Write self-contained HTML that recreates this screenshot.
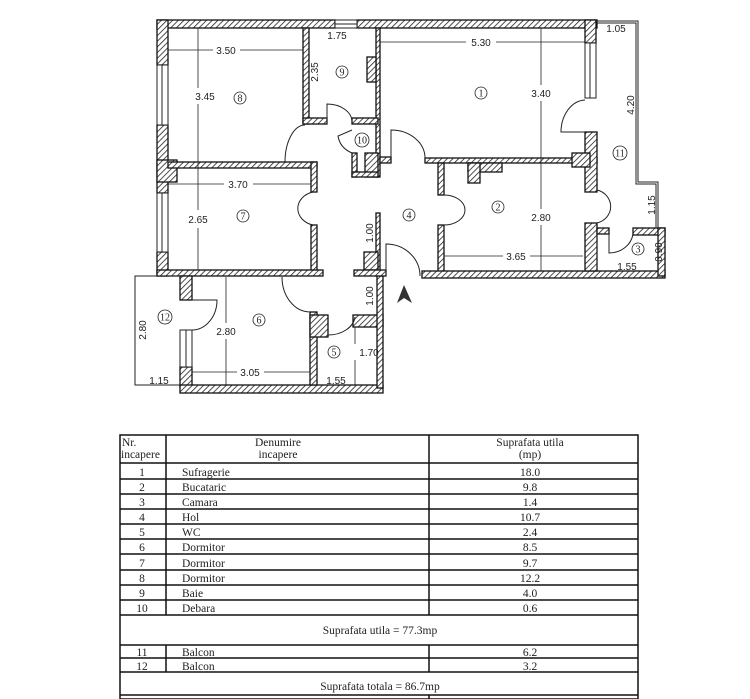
<!DOCTYPE html>
<html><head><meta charset="utf-8"><style>
html,body{margin:0;padding:0;background:#fff;}
svg{display:block;}
.d{font-family:"Liberation Sans",sans-serif;font-size:10px;fill:#222;}
.t{font-family:"Liberation Serif",serif;font-size:11.5px;fill:#222;}
.n{font-family:"Liberation Serif",serif;font-size:10px;fill:#222;}
</style></head><body>
<svg width="750" height="699" viewBox="0 0 750 699" xmlns="http://www.w3.org/2000/svg">
<defs>
<pattern id="h" width="4" height="4" patternUnits="userSpaceOnUse" patternTransform="rotate(45)">
<rect width="4" height="4" fill="#fff"/><line x1="0" y1="0" x2="0" y2="4" stroke="#222" stroke-width="1.6"/>
</pattern>
</defs>
<g fill="url(#h)" stroke="#111" stroke-width="1.3">
<rect x="157" y="20" width="178" height="8"/>
<rect x="357" y="20" width="240" height="8"/>
<rect x="157" y="20" width="11" height="45"/>
<rect x="157" y="125" width="11" height="68"/>
<rect x="157" y="252" width="11" height="24"/>
<rect x="157" y="160" width="20" height="22"/>
<rect x="303" y="28" width="6" height="96"/>
<rect x="376" y="28" width="4" height="149"/>
<rect x="367" y="57" width="9" height="25"/>
<rect x="303" y="118" width="24" height="6"/>
<rect x="352" y="118" width="26" height="6"/>
<rect x="352" y="153" width="5" height="24"/>
<rect x="365" y="153" width="13" height="24"/>
<rect x="352" y="172" width="26" height="5"/>
<rect x="380" y="157" width="11" height="6"/>
<rect x="168" y="162" width="149" height="6"/>
<rect x="311" y="162" width="6" height="30"/>
<rect x="311" y="225" width="6" height="47"/>
<rect x="157" y="270" width="166" height="6"/>
<rect x="180" y="276" width="12" height="24"/>
<rect x="180" y="367" width="12" height="20"/>
<rect x="180" y="385" width="203" height="8"/>
<rect x="310" y="312" width="7" height="73"/>
<rect x="310" y="315" width="18" height="22"/>
<rect x="353" y="315" width="30" height="12"/>
<rect x="377" y="276" width="6" height="112"/>
<rect x="376" y="213" width="4" height="58"/>
<rect x="364" y="252" width="14" height="18"/>
<rect x="354" y="270" width="32" height="6"/>
<rect x="425" y="158" width="172" height="5"/>
<rect x="438" y="163" width="6" height="32"/>
<rect x="438" y="225" width="6" height="47"/>
<rect x="422" y="271" width="243" height="7"/>
<rect x="468" y="163" width="34" height="9"/>
<rect x="468" y="163" width="12" height="20"/>
<rect x="585" y="20" width="11" height="23"/>
<rect x="585" y="132" width="12" height="60"/>
<rect x="572" y="153" width="18" height="14"/>
<rect x="585" y="223" width="12" height="48"/>
<rect x="633" y="228" width="32" height="7"/>
<rect x="658" y="228" width="7" height="48"/>
<rect x="597" y="228" width="12" height="6"/>
</g>
<g fill="#fff" stroke="#222" stroke-width="1">
<rect x="335" y="20" width="22" height="8"/><line x1="335" y1="24" x2="357" y2="24"/>
<rect x="157" y="65" width="11" height="60"/><line x1="162" y1="65" x2="162" y2="125"/>
<rect x="157" y="193" width="11" height="59"/><line x1="162" y1="193" x2="162" y2="252"/>
<rect x="585" y="43" width="11" height="55"/><line x1="590" y1="43" x2="590" y2="98"/>
<rect x="180" y="330" width="12" height="37"/><line x1="186" y1="330" x2="186" y2="367"/>
</g>
<g fill="none" stroke="#222" stroke-width="1">
<polyline points="596,21 638,21 638,182 658,182 658,228"/>
<polyline points="596,23 636,23 636,184 656,184 656,228"/>
<polyline points="180,276 135,276 135,385 180,385"/>
<polyline points="597,234 597,271"/>
<path d="M285,162 A20,37 0 0 1 305,125"/>
<path d="M327,124 L327,104 A25,18 0 0 1 352,122"/>
<path d="M352,130 L338,136 Q340,148 352,153"/>
<path d="M391,157 L391,130 A34,28 0 0 1 425,158"/>
<path d="M585,100 A25,32 0 0 0 561,132 L585,132"/>
<path d="M313,192 A20,17 0 0 0 313,225"/>
<path d="M444,195 A21,15 0 0 1 444,225"/>
<path d="M597,190 A18,17 0 0 1 597,223"/>
<path d="M609,234 L609,253 A24,22 0 0 0 633,234"/>
<path d="M386,276 L386,244 A34,32 0 0 1 420,276"/>
<path d="M282,277 A28,35 0 0 0 310,312"/>
<path d="M328,335 A27,20 0 0 0 355,317"/>
<path d="M192,300 L217,300 A25,30 0 0 1 192,330"/>
</g>
<g stroke="#222" stroke-width="0.8" fill="none">
<line x1="168" y1="50" x2="213" y2="50"/><line x1="240" y1="50" x2="303" y2="50"/>
<line x1="198" y1="28" x2="198" y2="88"/><line x1="198" y1="104" x2="198" y2="210"/><line x1="198" y1="228" x2="198" y2="270"/>
<line x1="380" y1="42" x2="466" y2="42"/><line x1="496" y1="42" x2="585" y2="42"/>
<line x1="541" y1="28" x2="541" y2="85"/><line x1="541" y1="101" x2="541" y2="209"/><line x1="541" y1="225" x2="541" y2="271"/>
<line x1="168" y1="184" x2="224" y2="184"/><line x1="253" y1="184" x2="311" y2="184"/>
<line x1="444" y1="256" x2="503" y2="256"/><line x1="530" y1="256" x2="583" y2="256"/>
<line x1="226" y1="277" x2="226" y2="323"/><line x1="226" y1="339" x2="226" y2="385"/>
<line x1="192" y1="372" x2="237" y2="372"/><line x1="264" y1="372" x2="310" y2="372"/>
<line x1="355" y1="327" x2="355" y2="344"/><line x1="355" y1="360" x2="355" y2="385"/>
</g>
<polygon points="404,285 397,303 404,298 412,303" fill="#333"/>
<g class="d" text-anchor="middle">
<text x="226" y="54">3.50</text>
<text x="205" y="100">3.45</text>
<text x="337" y="39">1.75</text>
<text x="481" y="46">5.30</text>
<text x="541" y="97">3.40</text>
<text x="541" y="221">2.80</text>
<text x="616" y="32">1.05</text>
<text x="238" y="188">3.70</text>
<text x="198" y="223">2.65</text>
<text x="516" y="260">3.65</text>
<text x="627" y="270">1.55</text>
<text x="226" y="335">2.80</text>
<text x="250" y="376">3.05</text>
<text x="159" y="384">1.15</text>
<text x="336" y="384">1.55</text>
<text x="369" y="356">1.70</text>
<text transform="translate(318,72) rotate(-90)">2.35</text>
<text transform="translate(634,105) rotate(-90)">4.20</text>
<text transform="translate(655,205) rotate(-90)">1.15</text>
<text transform="translate(662,252) rotate(-90)">0.90</text>
<text transform="translate(373,233) rotate(-90)">1.00</text>
<text transform="translate(373,296) rotate(-90)">1.00</text>
<text transform="translate(146,330) rotate(-90)">2.80</text>
</g>
<g fill="none" stroke="#222" stroke-width="0.8">
<circle cx="240" cy="98" r="6"/><circle cx="342" cy="72" r="6"/><circle cx="481" cy="93" r="6"/>
<circle cx="362" cy="140" r="7"/><circle cx="620" cy="153" r="7"/><circle cx="498" cy="207" r="6"/>
<circle cx="409" cy="215" r="6"/><circle cx="243" cy="216" r="6"/><circle cx="638" cy="249" r="6"/>
<circle cx="259" cy="320" r="6"/><circle cx="165" cy="317" r="7"/><circle cx="334" cy="352" r="6"/>
</g>
<g class="n" text-anchor="middle">
<text x="240" y="101.5">8</text><text x="342" y="75.5">9</text><text x="481" y="96.5">1</text>
<text x="362" y="143.5">10</text><text x="620" y="156.5">11</text><text x="498" y="210.5">2</text>
<text x="409" y="218.5">4</text><text x="243" y="219.5">7</text><text x="638" y="252.5">3</text>
<text x="259" y="323.5">6</text><text x="165" y="320.5">12</text><text x="334" y="355.5">5</text>
</g>
<g stroke="#111" stroke-width="1.5" fill="none">
<rect x="120" y="435" width="518" height="264"/>
<line x1="166" y1="435" x2="166" y2="615"/>
<line x1="429" y1="435" x2="429" y2="615"/>
<line x1="166" y1="645" x2="166" y2="672"/>
<line x1="429" y1="645" x2="429" y2="672"/>
<line x1="429" y1="695" x2="429" y2="699"/>
<line x1="120" y1="463" x2="638" y2="463"/>
<line x1="120" y1="479" x2="638" y2="479"/>
<line x1="120" y1="494" x2="638" y2="494"/>
<line x1="120" y1="509" x2="638" y2="509"/>
<line x1="120" y1="524" x2="638" y2="524"/>
<line x1="120" y1="539" x2="638" y2="539"/>
<line x1="120" y1="554" x2="638" y2="554"/>
<line x1="120" y1="570" x2="638" y2="570"/>
<line x1="120" y1="585" x2="638" y2="585"/>
<line x1="120" y1="600" x2="638" y2="600"/>
<line x1="120" y1="615" x2="638" y2="615"/>
<line x1="120" y1="645" x2="638" y2="645"/>
<line x1="120" y1="658" x2="638" y2="658"/>
<line x1="120" y1="672" x2="638" y2="672"/>
<line x1="120" y1="695" x2="638" y2="695"/>
</g>
<g class="t">
<text x="122" y="446">Nr.</text><text x="121" y="458">incapere</text>
<text x="278" y="446" text-anchor="middle">Denumire</text><text x="278" y="458" text-anchor="middle">incapere</text>
<text x="530" y="446" text-anchor="middle">Suprafata utila</text><text x="530" y="458" text-anchor="middle">(mp)</text>
</g>
<g class="t">
<g text-anchor="middle">
<text x="142" y="476">1</text><text x="142" y="491">2</text><text x="142" y="506">3</text><text x="142" y="521">4</text><text x="142" y="536">5</text><text x="142" y="551">6</text><text x="142" y="567">7</text><text x="142" y="582">8</text><text x="142" y="597">9</text><text x="142" y="612">10</text>
<text x="142" y="656">11</text><text x="142" y="670">12</text>
<text x="530" y="476">18.0</text><text x="530" y="491">9.8</text><text x="530" y="506">1.4</text><text x="530" y="521">10.7</text><text x="530" y="536">2.4</text><text x="530" y="551">8.5</text><text x="530" y="567">9.7</text><text x="530" y="582">12.2</text><text x="530" y="597">4.0</text><text x="530" y="612">0.6</text>
<text x="530" y="656">6.2</text><text x="530" y="670">3.2</text>
<text x="380" y="634">Suprafata utila = 77.3mp</text>
<text x="380" y="690">Suprafata totala = 86.7mp</text>
</g>
<text x="182" y="476">Sufragerie</text><text x="182" y="491">Bucataric</text><text x="182" y="506">Camara</text><text x="182" y="521">Hol</text><text x="182" y="536">WC</text><text x="182" y="551">Dormitor</text><text x="182" y="567">Dormitor</text><text x="182" y="582">Dormitor</text><text x="182" y="597">Baie</text><text x="182" y="612">Debara</text>
<text x="182" y="656">Balcon</text><text x="182" y="670">Balcon</text>
</g>
</svg>
</body></html>
